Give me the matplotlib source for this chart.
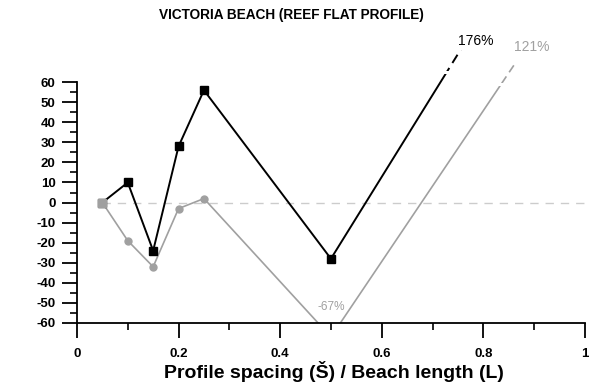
import matplotlib
matplotlib.use("Agg")
import matplotlib.pyplot as plt
from matplotlib.patches import Rectangle
from matplotlib.ticker import MultipleLocator, FixedLocator, FixedFormatter

plt.rcParams["font.family"] = ["Liberation Sans", "DejaVu Sans"]
plt.rcParams["axes.unicode_minus"] = False

# data
spacing = [0.05, 0.1, 0.15, 0.2, 0.25, 0.5]
black_vals = [0, 10, -24, 28, 56, -28]
gray_vals = [0, -19, -32, -3, 2, -67]
black_end = 176  # value reached at spacing 1 (off scale)
gray_end = 121
end_x = 1.0
x_tick_pos = [0, 0.2, 0.4, 0.6, 0.8, 1.0]
x_tick_lab = ["0", "0.2", "0.4", "0.6", "0.8", "1"]

GRAY = "#a0a0a0"

fig = plt.figure(figsize=(5.92, 3.84), dpi=100)
ax = fig.add_axes([0.130, 0.159, 0.858, 0.627])
ax.set_xlim(0, 1)
ax.set_ylim(-60, 60)

# zero reference line
ax.plot([spacing[0], 1.0], [0, 0], color="#cccccc", lw=1, dashes=(6, 5), zorder=1)


def draw_series(vals, end, color, solid_top, dash_top, marker, ms, lw):
    xs = spacing + [end_x]
    ys = vals + [end]
    solid, = ax.plot(xs, ys, color=color, lw=lw, zorder=2)
    solid.set_clip_path(Rectangle((0, -60), 1, solid_top + 60, transform=ax.transData))
    dash, = ax.plot(xs, ys, color=color, lw=lw, dashes=(5, 3), zorder=2)
    dash.set_clip_path(Rectangle((0, solid_top + 1.5), 1, dash_top - solid_top - 1.5,
                                 transform=ax.transData))
    mx = [x for x, y in zip(spacing, vals) if -60 <= y <= 60]
    my = [y for y in vals if -60 <= y <= 60]
    ax.plot(mx, my, linestyle="none", marker=marker, color=color, ms=ms, zorder=3)


draw_series(black_vals, black_end, "black", 64, 76, "s", 5.5, 1.4)
draw_series(gray_vals, gray_end, GRAY, 58, 70, "o", 5, 1.2)
# first point is shared; shown as a gray square
ax.plot([spacing[0]], [gray_vals[0]], linestyle="none", marker="s", color=GRAY, ms=5.5, zorder=4)

ax.text(0.785, 80.5, "176%", color="black", fontsize=10, ha="center", va="center", clip_on=False)
ax.text(0.895, 77.5, "121%", color=GRAY, fontsize=10, ha="center", va="center", clip_on=False)
ax.text(0.50, -52, "-67%", color=GRAY, fontsize=8.5, ha="center", va="center")

# axes styling
for s in ["top", "right"]:
    ax.spines[s].set_visible(False)
ax.spines["left"].set_linewidth(1.3)
ax.spines["bottom"].set_linewidth(1.3)

ax.yaxis.set_major_locator(MultipleLocator(10))
ax.yaxis.set_minor_locator(MultipleLocator(5))
ax.xaxis.set_major_locator(FixedLocator(x_tick_pos))
ax.xaxis.set_major_formatter(FixedFormatter(x_tick_lab))
ax.xaxis.set_minor_locator(MultipleLocator(0.1))
ax.tick_params(which="major", length=10.5, width=1.3, labelsize=9.5)
ax.tick_params(which="minor", length=5, width=1.2)
ax.tick_params(axis="y", which="major", pad=5)
ax.tick_params(axis="x", which="major", pad=7.5)
for lab in ax.get_xticklabels() + ax.get_yticklabels():
    lab.set_fontweight("bold")

fig.text(0.493, 0.962, "VICTORIA BEACH (REEF FLAT PROFILE)", ha="center", va="center",
         fontsize=9.8, fontweight="bold")
ax.set_xlabel("Profile spacing (Š) / Beach length (L)", fontsize=14, fontweight="bold",
              labelpad=1)
ax.xaxis.set_label_coords(0.505, -0.2, transform=ax.transAxes)
ax.xaxis.label.set_va("center")

fig.savefig("out.png", dpi=100)
